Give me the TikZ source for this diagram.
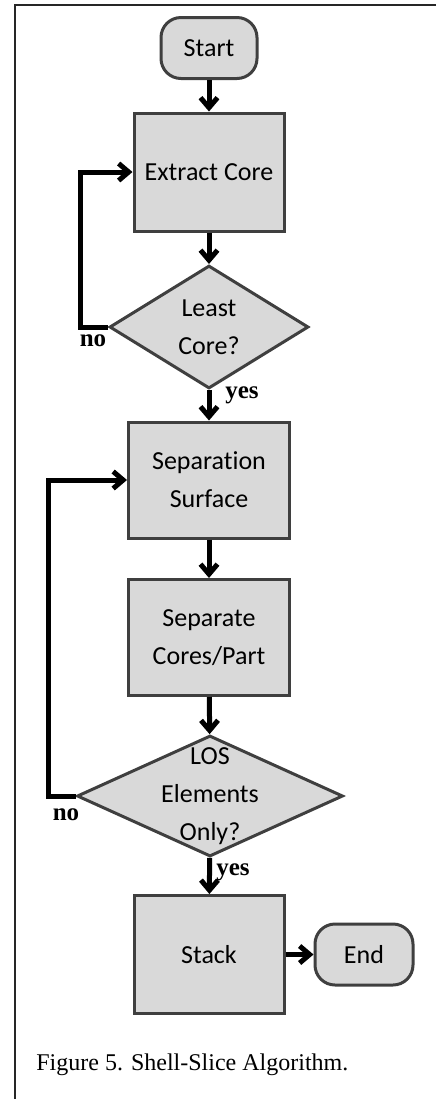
\documentclass[tikz,border=0pt]{standalone}
\usepackage{fontspec}
\setmainfont{Liberation Serif}
\newfontfamily\flowfont[Ligatures=NoCommon]{Carlito}
\usepackage{tikz}
\usetikzlibrary{arrows.meta, shapes.geometric}
\definecolor{boxfill}{HTML}{D9D9D9}
\definecolor{boxedge}{HTML}{3F3F3F}
\tikzset{
  flowtext/.style  = {font=\flowfont\fontsize{13}{19}\selectfont,
                      align=center, inner sep=0pt},
  flowbox/.style   = {flowtext, rectangle, fill=boxfill, draw=boxedge,
                      line width=1.5pt, minimum width=75pt, minimum height=59pt},
  flowwide/.style  = {flowbox, minimum width=80.5pt, minimum height=58pt},
  flowterm/.style  = {flowbox, rounded corners=10pt, minimum width=48pt,
                      minimum height=30.5pt},
  flowdec/.style   = {diamond, fill=boxfill, draw=boxedge, line width=1.5pt,
                      inner sep=0pt},
  flowarrow/.style = {draw=black, line width=2.5pt,
                      -{Straight Barb[length=5pt, width=8.5pt]}},
  flowlabel/.style = {font=\bfseries\fontsize{12.5}{14}\selectfont, inner sep=0pt},
  frameline/.style = {draw=black!85, line width=1pt},
  captext/.style   = {font=\fontsize{12}{14}\selectfont, inner sep=0pt, anchor=west},
}

\begin{document}
\begin{tikzpicture}[x=0.5pt, y=-0.5pt]
  \useasboundingbox (0,0) rectangle (436,1099);
  \draw[frameline] (436,5) -- (15,5) -- (15,1099);
  % main column
  \node[flowterm] (start) at (209,48) {Start};
  \node[flowbox] (extract) at (209,172) {Extract Core};
  \node[flowdec, minimum width=99.5pt, minimum height=61.5pt,
        label={[flowtext]center:{Least\\Core?}}] (least) at (209,327) {};
  \node[flowwide] (sepsurf) at (209,480) {Separation\\Surface};
  \node[flowwide] (sepcore) at (209,637.5) {Separate\\Cores/Part};
  \node[flowdec, minimum width=133pt, minimum height=60.5pt,
        label={[flowtext]center:{LOS\\Elements\\Only?}}] (los) at (210,796) {};
  \node[flowbox] (stack) at (209,954.5) {Stack};
  \node[flowterm, minimum width=49pt] (end) at (364,954.5) {End};
  % connectors
  \draw[flowarrow] (start) -- (extract);
  \draw[flowarrow] (extract) -- (least);
  \draw[flowarrow] (least) -- (sepsurf);
  \draw[flowarrow] (sepsurf) -- (sepcore);
  \draw[flowarrow] (sepcore) -- (los);
  \draw[flowarrow] (los) -- (stack);
  \draw[flowarrow] (stack) -- (end);
  \draw[flowarrow] (least.west) -- ++(-28,0) |- (extract.west);
  \draw[flowarrow] (los.west) -- ++(-27,0) |- (sepsurf.west);
  % branch labels
  \node[flowlabel] (noa) at (93,341) {no};
  \node[flowlabel] (yesa) at (242,395) {yes};
  \node[flowlabel] (nob) at (66,815) {no};
  \node[flowlabel] (yesb) at (233,872) {yes};
  \node[captext] (cap) at (36,1065) {Figure 5. Shell-Slice Algorithm.};
\end{tikzpicture}
\end{document}
